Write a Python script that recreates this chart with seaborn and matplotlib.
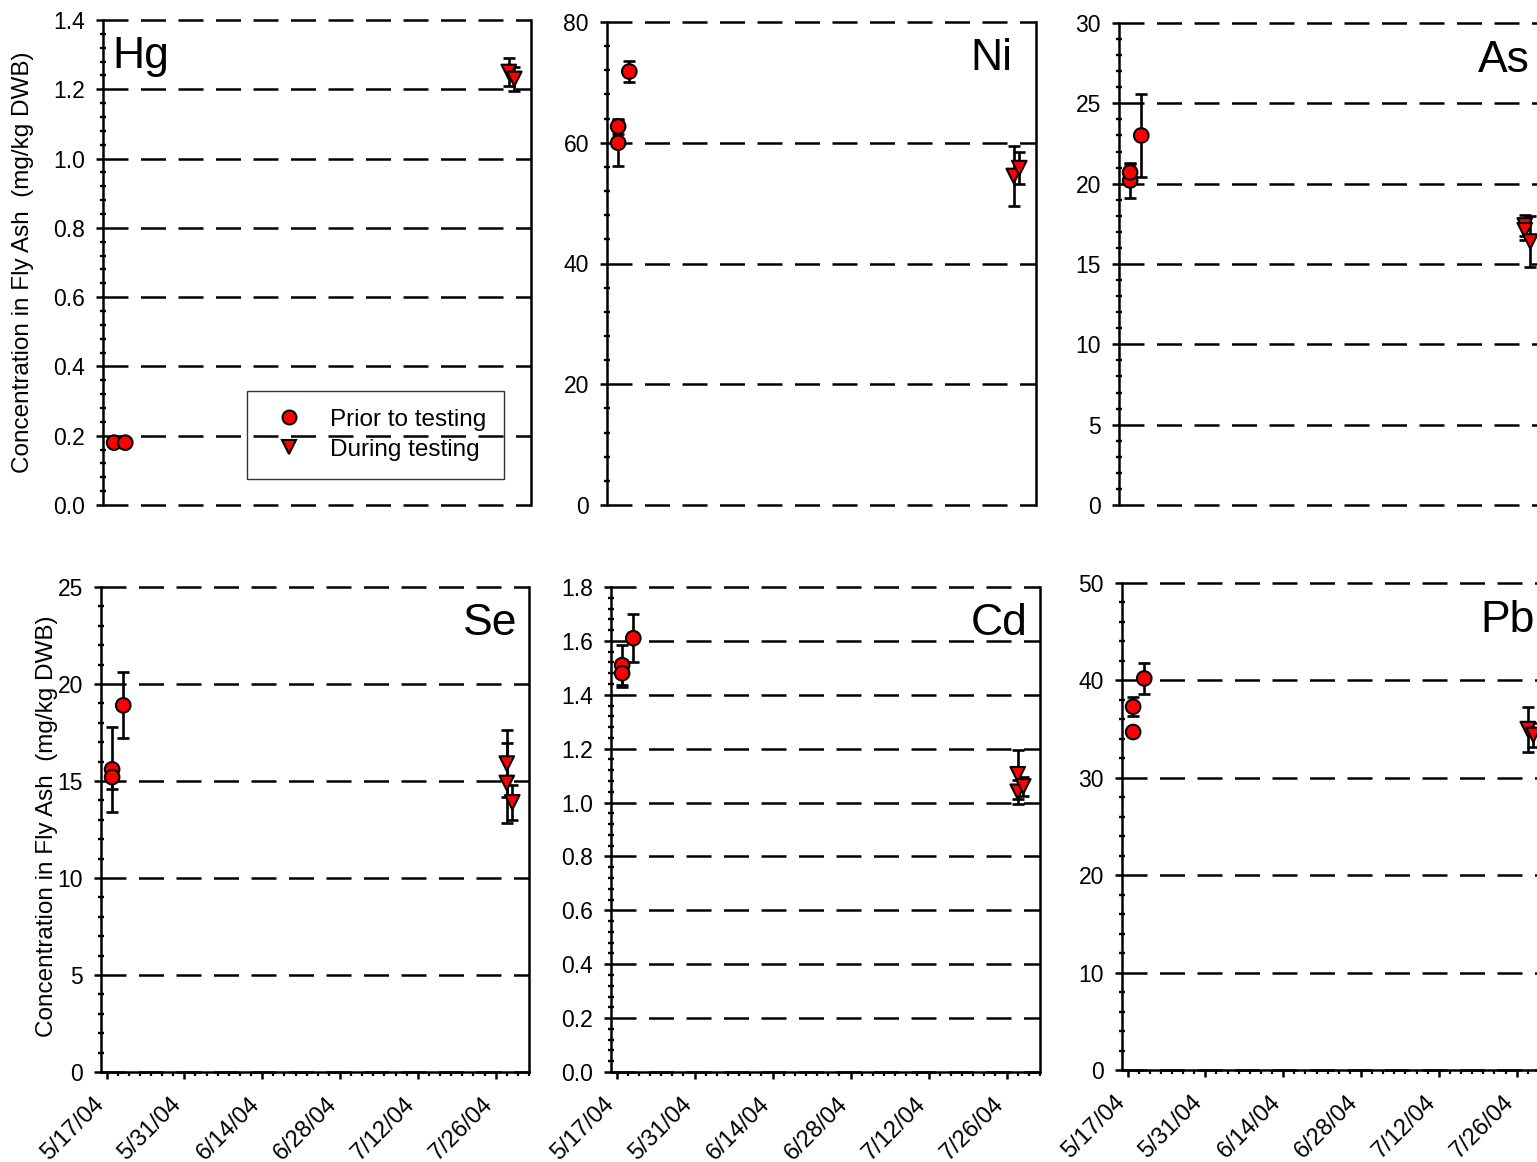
import matplotlib
matplotlib.use("Agg")
import matplotlib.pyplot as plt
import matplotlib.dates as mdates
import matplotlib.ticker as mticker
import matplotlib.transforms as mtransforms
from matplotlib.lines import Line2D
import pandas as pd
import seaborn as sns

# ---------------- data ----------------
PHASES = ["Prior to testing", "During testing"]

hg_dates = ["2004-05-18", "2004-05-20", "2004-07-28", "2004-07-29"]
hg_phase = ["Prior to testing", "Prior to testing", "During testing", "During testing"]
hg_vals = [0.18, 0.18, 1.25, 1.23]
hg_err = [0.005, 0.005, 0.04, 0.035]

ni_dates = ["2004-05-18", "2004-05-18", "2004-05-20", "2004-07-28", "2004-07-29"]
ni_phase = ["Prior to testing"] * 3 + ["During testing"] * 2
ni_vals = [60.0, 62.7, 71.8, 54.5, 55.8]
ni_err = [3.8, 1.2, 1.7, 5.0, 2.6]

as_dates = ["2004-05-18", "2004-05-18", "2004-05-20", "2004-07-28", "2004-07-28", "2004-07-29"]
as_phase = ["Prior to testing"] * 3 + ["During testing"] * 3
as_vals = [20.2, 20.7, 23.0, 17.4, 17.1, 16.4]
as_err = [1.1, 0.5, 2.6, 0.65, 0.6, 1.6]

se_dates = ["2004-05-18", "2004-05-18", "2004-05-20", "2004-07-28", "2004-07-28", "2004-07-29"]
se_phase = ["Prior to testing"] * 3 + ["During testing"] * 3
se_vals = [15.6, 15.2, 18.9, 15.9, 14.9, 13.9]
se_err = [2.2, 0.6, 1.7, 1.75, 2.05, 0.9]

cd_dates = ["2004-05-18", "2004-05-18", "2004-05-20", "2004-07-28", "2004-07-28", "2004-07-29"]
cd_phase = ["Prior to testing"] * 3 + ["During testing"] * 3
cd_vals = [1.51, 1.48, 1.61, 1.105, 1.04, 1.06]
cd_err = [0.075, 0.05, 0.09, 0.09, 0.045, 0.035]

pb_dates = ["2004-05-18", "2004-05-18", "2004-05-20", "2004-07-28", "2004-07-29"]
pb_phase = ["Prior to testing"] * 3 + ["During testing"] * 2
pb_vals = [37.3, 34.7, 40.2, 35.0, 34.4]
pb_err = [0.95, 0.3, 1.6, 2.3, 1.2]

x_major_ticks = ["2004-05-17", "2004-05-31", "2004-06-14", "2004-06-28", "2004-07-12", "2004-07-26"]
x_limits = ["2004-05-16", "2004-08-01"]

ylabel_text = "Concentration in Fly Ash  (mg/kg DWB)"

# element: (dates, phases, values, errors, ymax, major step, minor step, decimals)
panels = [
    ("Hg", hg_dates, hg_phase, hg_vals, hg_err, 1.4, 0.2, 0.04, 1),
    ("Ni", ni_dates, ni_phase, ni_vals, ni_err, 80, 20, 4, 0),
    ("As", as_dates, as_phase, as_vals, as_err, 30, 5, 1, 0),
    ("Se", se_dates, se_phase, se_vals, se_err, 25, 5, 1, 0),
    ("Cd", cd_dates, cd_phase, cd_vals, cd_err, 1.8, 0.2, 0.04, 1),
    ("Pb", pb_dates, pb_phase, pb_vals, pb_err, 50, 10, 2, 0),
]

# pixel boxes (left, top, right, bottom)
boxes = {
    "Hg": (103, 20, 531, 505),
    "Ni": (607, 22, 1036, 505),
    "As": (1119, 23, 1547, 505),
    "Se": (101, 587, 529, 1072),
    "Cd": (611, 587, 1040, 1072),
    "Pb": (1122, 583, 1550, 1070),
}
label_pos = {  # axes fraction x, y, ha
    "Hg": (0.023, 0.968, "left"),
    "Ni": (0.944, 0.966, "right"),
    "As": (0.960, 0.964, "right"),
    "Se": (0.974, 0.968, "right"),
    "Cd": (0.972, 0.968, "right"),
    "Pb": (0.965, 0.965, "right"),
}

sns.set_theme(style="ticks")
plt.rcParams["font.family"] = ["Liberation Sans", "DejaVu Sans"]
plt.rcParams["axes.linewidth"] = 1.8
for k in ("text.color", "axes.labelcolor", "xtick.color", "ytick.color", "axes.edgecolor"):
    plt.rcParams[k] = "black"

W, H = 1537, 1162
fig = plt.figure(figsize=(W / 100, H / 100), dpi=100)
fig.patch.set_facecolor("white")

xmaj = pd.to_datetime(x_major_ticks)
xmin, xmax = pd.to_datetime(x_limits)
xminor = pd.date_range(xmaj[0], xmax, freq="2D")
dash = (0, (10, 5))
label_shift = mtransforms.ScaledTranslation(-4.5 / 72, -4 / 72, fig.dpi_scale_trans)

for name, dates, phase, vals, errs, ymax, step, mstep, dec in panels:
    l, t, r, b = boxes[name]
    ax = fig.add_axes([l / W, 1 - b / H, (r - l) / W, (b - t) / H])
    ax.set_facecolor("none")
    df = pd.DataFrame({"date": pd.to_datetime(dates), "value": vals,
                       "err": errs, "phase": phase})
    ax.errorbar(df["date"], df["value"], yerr=df["err"], fmt="none",
                ecolor="black", elinewidth=1.9, capsize=4.5, capthick=1.9, zorder=3)
    sns.scatterplot(data=df, x="date", y="value", style="phase",
                    style_order=PHASES, markers={"Prior to testing": "o", "During testing": "v"},
                    color="red", edgecolor="black", linewidth=1.5, s=110,
                    ax=ax, zorder=4, legend=False)
    ax.set_xlim(xmin, xmax)
    ax.set_ylim(0, ymax)
    ax.set_xlabel("")
    ax.set_ylabel("")
    ax.yaxis.set_major_locator(mticker.MultipleLocator(step))
    ax.yaxis.set_minor_locator(mticker.MultipleLocator(mstep))
    ax.yaxis.set_major_formatter(mticker.FormatStrFormatter(f"%.{dec}f"))
    ax.tick_params(axis="y", which="major", direction="out", length=5, width=1.8,
                   labelsize=16.5, pad=8, colors="black")
    ax.tick_params(axis="y", which="minor", direction="inout", length=4, width=1.7)
    ax.tick_params(axis="y", right=False)

    nticks = int(round(ymax / step))
    for k in range(nticks + 1):
        ax.axhline(k * step, color="black", lw=1.8, ls=dash, clip_on=False, zorder=2)

    ax.spines["top"].set_visible(False)
    for s in ("left", "right"):
        ax.spines[s].set_color("black")
        ax.spines[s].set_linewidth(1.8)

    bottom_row = name in ("Se", "Cd", "Pb")
    if bottom_row:
        ax.spines["bottom"].set_color("black")
        ax.spines["bottom"].set_linewidth(1.8)
        ax.xaxis.set_major_locator(mticker.FixedLocator(mdates.date2num(xmaj)))
        ax.xaxis.set_minor_locator(mticker.FixedLocator(mdates.date2num(xminor)))
        ax.xaxis.set_major_formatter(mticker.FuncFormatter(
            lambda v, p: (lambda d: f"{d.month}/{d.day}/{d:%y}")(mdates.num2date(v))))
        ax.tick_params(axis="x", which="major", direction="out", length=5, width=1.8,
                       labelsize=17, pad=12, colors="black")
        ax.tick_params(axis="x", which="minor", direction="out", length=3, width=1.6)
        for lab in ax.get_xticklabels():
            lab.set_rotation(45)
            lab.set_ha("right")
            lab.set_va("center")
            lab.set_rotation_mode("anchor")
        for tk in ax.xaxis.get_major_ticks():
            tk.label1.set_transform(tk.label1.get_transform() + label_shift)
    else:
        ax.spines["bottom"].set_visible(False)
        ax.tick_params(axis="x", which="both", bottom=False, labelbottom=False)

    lx, ly, ha = label_pos[name]
    ax.text(lx, ly, name, transform=ax.transAxes, ha=ha, va="top", fontsize=32)

    if name == "Hg":
        ax.set_ylabel(ylabel_text, fontsize=17.5)
        ax.yaxis.set_label_coords(-0.161, 0.501)
        handles = [Line2D([], [], ls="none", marker="o", markersize=10, markerfacecolor="red",
                          markeredgecolor="black", markeredgewidth=1.5),
                   Line2D([], [], ls="none", marker="v", markersize=10, markerfacecolor="red",
                          markeredgecolor="black", markeredgewidth=1.5)]
        leg = ax.legend(handles, PHASES, loc="lower right", bbox_to_anchor=(0.937, 0.054),
                        fontsize=17.5, frameon=True, fancybox=False, shadow=False,
                        handlelength=2.0, handletextpad=0.65, borderpad=0.75,
                        labelspacing=0.32, borderaxespad=0)
        leg.get_frame().set_edgecolor("black")
        leg.get_frame().set_facecolor("none")
        leg.get_frame().set_linewidth(1.0)
    if name == "Se":
        ax.set_ylabel(ylabel_text, fontsize=17.5)
        ax.yaxis.set_label_coords(-0.101, 0.507)

fig.savefig("out.png", dpi=100, facecolor="white")
